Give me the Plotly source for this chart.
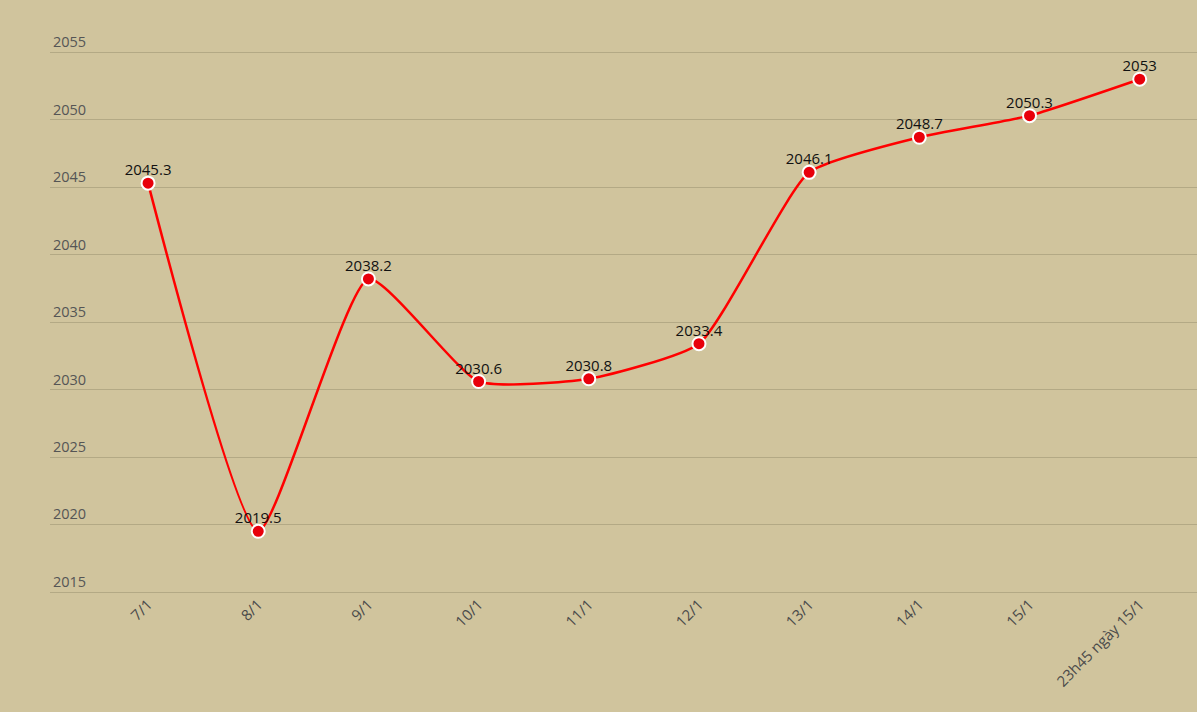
import plotly.graph_objects as go

categories = ["7/1", "8/1", "9/1", "10/1", "11/1", "12/1", "13/1", "14/1", "15/1", "23h45 ngày 15/1"]
values = [2045.3, 2019.5, 2038.2, 2030.6, 2030.8, 2033.4, 2046.1, 2048.7, 2050.3, 2053]
labels = ["2045.3", "2019.5", "2038.2", "2030.6", "2030.8", "2033.4", "2046.1", "2048.7", "2050.3", "2053"]
y_ticks = [2015, 2020, 2025, 2030, 2035, 2040, 2045, 2050, 2055]

y_lo, y_hi = 2013, 2056.5
bg = "#D0C49D"
xs = list(range(len(categories)))
fig = go.Figure()
fig.add_trace(go.Scatter(
    x=xs, y=values,
    mode="lines+markers",
    line=dict(color="#FF0000", width=2.5, shape="spline", smoothing=0.5),
    marker=dict(color="#E8000B", size=13, line=dict(color="white", width=2)),
    cliponaxis=False,
    hoverinfo="skip",
))
fig.add_trace(go.Scatter(
    x=xs, y=values,
    mode="markers+text",
    marker=dict(size=5, color="rgba(0,0,0,0)"),
    text=labels, textposition="top center",
    textfont=dict(family="Open Sans, sans-serif", size=15, color="#111111"),
    cliponaxis=False,
    hoverinfo="skip",
))
fig.update_layout(
    width=1197, height=712,
    paper_bgcolor=bg, plot_bgcolor=bg,
    margin=dict(l=50, r=0, t=31.75, b=93),
    showlegend=False,
    font=dict(family="Open Sans, sans-serif"),
)
fig.update_xaxes(
    tickmode="array", tickvals=xs, ticktext=categories,
    range=[-0.89, 9.52], tickangle=-45, showgrid=False, zeroline=False,
    showline=False, ticks="",
    anchor="free", position=(2015 - y_lo) / (y_hi - y_lo),
    tickfont=dict(size=15, color="#4A4A4A"),
)
fig.update_yaxes(
    tickmode="array", tickvals=y_ticks, ticktext=[str(t) for t in y_ticks],
    range=[y_lo, y_hi], showgrid=True, gridcolor="#B3A985", gridwidth=1.2,
    zeroline=False, showline=False, ticks="",
    ticklabelposition="inside top",
    tickfont=dict(size=14.5, color="#555555"),
)
fig.write_html("out.html", post_script="document.body.style.margin='0';",
               config={"displayModeBar": False})
